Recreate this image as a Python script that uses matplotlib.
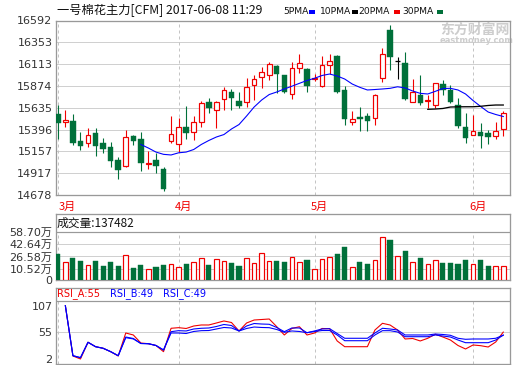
import numpy as np
import matplotlib
matplotlib.use("Agg")
import matplotlib.pyplot as plt
from matplotlib.patches import Rectangle
from matplotlib.transforms import blended_transform_factory

# ---------------- data ----------------
title = "一号棉花主力[CFM] 2017-06-08 11:29"

opens = [15566, 15475, 15493, 15270, 15245, 15358, 15248, 15204, 15062, 14999,
         15325, 15292, 15014, 15062, 14963, 15273, 15234, 15420, 15366, 15475,
         15698, 15610, 15728, 15804, 15709, 15695, 15881, 15976, 15997, 16093,
         15994, 15782, 16068, 16060, 15947, 15873, 16104, 16203, 15830, 15475,
         15530, 15544, 15519, 15965, 16488, 16148, 16129, 15701, 15775, 15709,
         15665, 15892, 15830, 15665, 15427, 15333, 15366, 15358, 15322, 15399]
closes = [15471, 15500, 15251, 15219, 15336, 15219, 15186, 15051, 14955, 15314,
          15273, 15025, 15032, 14999, 14744, 15347, 15420, 15361, 15475, 15684,
          15635, 15698, 15830, 15745, 15657, 15866, 15950, 16024, 16111, 16002,
          15811, 16068, 16122, 15877, 15961, 16107, 16144, 15811, 15508, 15511,
          15515, 15493, 15775, 16224, 16195, 16148, 15731, 15804, 15684, 15720,
          15903, 15830, 15701, 15435, 15300, 15380, 15328, 15311, 15380, 15574]
highs = [15665, 15610, 15566, 15372, 15409, 15409, 15300, 15262, 15098, 15391,
         15336, 15366, 15164, 15135, 14988, 15544, 15519, 15654, 15544, 15709,
         15739, 15709, 15859, 15841, 15808, 15958, 15994, 16085, 16140, 16104,
         15998, 16133, 16224, 16074, 16005, 16206, 16224, 16210, 15873, 15599,
         15643, 15574, 15782, 16287, 16543, 16195, 16250, 15950, 15994, 15775,
         15903, 15939, 15884, 15739, 15581, 15555, 15464, 15391, 15475, 15599]
lows = [15289, 15427, 15226, 15171, 15201, 15109, 15135, 14988, 14853, 14990,
        15226, 14944, 14960, 14922, 14725, 15251, 15153, 15292, 15281, 15427,
        15581, 15416, 15610, 15610, 15629, 15646, 15720, 15848, 15939, 15800,
        15793, 15731, 16019, 15811, 15928, 15859, 16005, 15800, 15446, 15446,
        15380, 15380, 15446, 15921, 16049, 15950, 15720, 15701, 15665, 15629,
        15632, 15775, 15684, 15409, 15251, 15333, 15197, 15234, 15289, 15328]

volumes = [302600, 189400, 246000, 206500, 149900, 206500, 140700, 189400, 140700, 281500,
           114400, 149900, 97300, 127600, 153900, 163100, 123600, 167000, 189400, 242000,
           153900, 228900, 202600, 180200, 140700, 242000, 176300, 307900, 202600, 202600,
           189400, 255200, 189400, 215700, 97300, 228900, 255200, 298700, 386800, 123600,
           189400, 167000, 215700, 518400, 482900, 268400, 338100, 189400, 242000, 163100,
           215700, 180200, 180200, 167000, 215700, 163100, 215700, 140700, 136800, 137482]

nan = np.nan
ma_blue = [nan] * 11 + [
    15232, 15193, 15149, 15124, 15117, 15141, 15149, 15177, 15232, 15276,
    15314, 15341, 15402, 15451, 15544, 15643, 15720, 15780, 15808, 15841,
    15871, 15903, 15934, 15958, 15989, 16005, 15983, 15950, 15895, 15859,
    15830, 15835, 15841, 15848, 15865, 15852, 15819, 15793, 15786, 15815,
    15846, 15848, 15830, 15786, 15714, 15649, 15588, 15561, 15539]
ma_black = [nan] * 49 + [15618, 15621, 15627, 15643, 15645, 15646, 15646,
                         15651, 15660, 15665, 15665]

rsi_a = [nan, 107, 7.9, 2.0, 34.9, 26.2, 23.1, 16.4, 7.9, 53.2, 49.3,
         33.5, 32.1, 28.6, 16.4, 62.5, 63.7, 62.1, 67.0, 69.0, 69.0,
         72.9, 76.9, 73.9, 57.2, 72.9, 78.8, 79.8, 80.8, 65.6, 49.3,
         62.1, 65.6, 49.3, 53.2, 62.1, 61.7, 37.5, 26.2, 26.2, 26.2,
         26.2, 59.1, 72.3, 69.0, 59.1, 41.4, 42.4, 37.5, 42.8, 50.7,
         45.3, 39.4, 28.6, 21.7, 29.6, 28.2, 25.6, 35.5, 55]
rsi_b = [nan, 107, 8.5, 4.6, 34.9, 26.2, 23.1, 16.4, 8.5, 45.3, 42.4,
         32.5, 32.1, 28.6, 19.7, 55.8, 57.8, 57.2, 61.1, 62.5, 63.1,
         66.0, 70.0, 68.0, 57.2, 67.0, 71.9, 70.9, 70.4, 64.1, 55.8,
         63.1, 63.1, 53.8, 57.2, 61.1, 61.7, 52.2, 42.8, 42.8, 42.8,
         42.8, 53.2, 62.5, 61.1, 59.1, 49.3, 49.3, 49.3, 49.3, 51.2,
         50.3, 48.7, 42.8, 40.8, 41.4, 41.4, 41.4, 42.8, 49]
rsi_c = [nan, 107, 8.5, 4.6, 34.9, 26.2, 23.1, 16.4, 8.5, 44.0, 41.5,
         32.5, 32.1, 28.6, 19.7, 53.2, 53.2, 52.2, 56.2, 57.8, 58.1,
         61.1, 64.1, 63.1, 57.2, 62.1, 65.0, 64.1, 63.7, 60.1, 54.6,
         57.2, 56.2, 53.8, 56.2, 58.1, 58.1, 49.3, 38.0, 38.0, 38.0,
         38.0, 49.3, 57.8, 57.8, 55.2, 45.9, 45.9, 45.9, 45.9, 49.3,
         47.3, 45.3, 39.4, 34.1, 34.1, 34.1, 34.1, 39.4, 49]

price_ticks = [16592, 16353, 16113, 15874, 15635, 15396, 15157, 14917, 14678]
vol_ticks = [105200, 265800, 426400, 587000]
vol_tick_labels = ["10.52万", "26.58万", "42.64万", "58.70万"]
rsi_ticks = [107, 55, 2]
month_labels = ["3月", "4月", "5月", "6月"]
month_index = [0, 16, 34, 55]
legend_labels = ["5PMA", "10PMA", "20PMA", "30PMA"]

# ---------------- style ----------------
RED = "#f00000"
GREEN = "#00703a"
BLUE = "#0000ff"
FRAME = "#999999"
GRID = "#d0d0d0"
DASH = "#c4c4c4"
TXT = "#333333"
CJK = ["Noto Sans CJK SC", "DejaVu Sans"]
NUMF = ["DejaVu Sans", "Noto Sans CJK SC"]
PX = 0.72  # one pixel in points

W, H = 520, 365
fig = plt.figure(figsize=(W / 100, H / 100), dpi=100)


def box(x0, y0, x1, y1):
    return [x0 / W, 1 - y1 / H, (x1 - x0) / W, (y1 - y0) / H]


ax = fig.add_axes(box(56, 20.5, 510, 195))
axv = fig.add_axes(box(56, 214, 510, 280))
axr = fig.add_axes(box(56, 288, 510, 364))

n = len(opens)
x = np.arange(n)
o = np.array(opens, float)
c = np.array(closes, float)
h = np.array(highs, float)
l = np.array(lows, float)
xlim = (-0.24, 59.89)

for a in (ax, axv, axr):
    a.set_xlim(*xlim)
    a.set_xticks([])
    for s in a.spines.values():
        s.set_color(FRAME)
        s.set_linewidth(PX * 1.3)
    a.tick_params(axis="y", length=0, pad=2.5, labelsize=8, labelcolor=TXT)

# ---------------- main candle chart ----------------
ax.set_ylim(14678, 16592)
ax.set_yticks(price_ticks)
ax.set_yticklabels([str(t) for t in price_ticks], family="DejaVu Sans")
for t in price_ticks[1:-1]:
    ax.axhline(t, color=GRID, lw=PX, zorder=0)
for mi in month_index:
    ax.axvline(mi, color=DASH, lw=PX, ls=(0, (3, 3)), zorder=0)

up = c > o
dn = c < o
fl = c == o
BW = 0.62
ax.vlines(x[dn], l[dn], h[dn], color=GREEN, lw=PX * 1.1, zorder=2)
ax.bar(x[dn], o[dn] - c[dn], bottom=c[dn], width=BW + 0.1, color=GREEN,
       edgecolor=GREEN, lw=0.3, zorder=3)
ax.vlines(x[up], c[up], h[up], color=RED, lw=PX * 1.1, zorder=2)
ax.vlines(x[up], l[up], o[up], color=RED, lw=PX * 1.1, zorder=2)
ax.bar(x[up], c[up] - o[up], bottom=o[up], width=BW, facecolor="white",
       edgecolor=RED, lw=PX * 1.2, zorder=3)
ax.vlines(x[fl], l[fl], h[fl], color="black", lw=PX * 1.1, zorder=2)
ax.hlines(o[fl], x[fl] - 0.36, x[fl] + 0.36, color="black", lw=PX * 1.3, zorder=3)

ax.plot(x, ma_blue, color=BLUE, lw=PX * 1.1, zorder=4)
ax.plot(x, ma_black, color="black", lw=PX * 1.3, zorder=4)

trans = blended_transform_factory(ax.transData, ax.transAxes)
for k, (lab, mi) in enumerate(zip(month_labels, month_index)):
    if k == 0:
        ax.text(mi + 0.16, -0.069, lab, transform=trans, ha="left", va="center",
                color=RED, fontsize=8, family=CJK)
    else:
        ax.text(mi + 0.6, -0.069, lab, transform=trans, ha="center", va="center",
                color=RED, fontsize=8, family=CJK)

# watermark
ax.text(475 / W, 1 - 30 / H, "东方财富网", transform=fig.transFigure, ha="center",
        va="center", color="#cdcdcd", fontsize=10, weight="bold", family=CJK, zorder=0)
ax.text(477 / W, 1 - 40.5 / H, "eastmoney.com", transform=fig.transFigure, ha="center",
        va="center", color="#cdcdcd", fontsize=6, weight="bold", family="DejaVu Sans", zorder=0)

# title + legend
fig.text(57 / W, 1 - 10 / H, title, ha="left", va="center", fontsize=8.8,
         family=CJK, color="#111111")
leg_x = [283, 320, 358, 402]
sq_x = [309, 352, 394, 437]
sq_col = [BLUE, "black", RED, GREEN]
for lab, lx, sx, sc in zip(legend_labels, leg_x, sq_x, sq_col):
    fig.text(lx / W, 1 - 11 / H, lab, ha="left", va="center", fontsize=6.6,
             family="DejaVu Sans", color="#111111")
    fig.add_artist(Rectangle((sx / W, 1 - 13.5 / H), 5.5 / W, 4 / H,
                             transform=fig.transFigure, color=sc, lw=0))

# ---------------- volume ----------------
vol = np.array(volumes, float)
vol_floor = -44700
vol_top = 823900
axv.set_ylim(vol_floor, vol_top)
axv.set_yticks([vol_floor] + vol_ticks)
axv.set_yticklabels(["0"] + vol_tick_labels, family=NUMF)
for t in vol_ticks[:-1]:
    axv.axhline(t, color=GRID, lw=PX, zorder=0)
axv.axhline(vol_ticks[-1], color=FRAME, lw=PX * 1.2, zorder=1)
frac = (vol_ticks[-1] - vol_floor) / (vol_top - vol_floor)
for mi in month_index:
    axv.axvline(mi, ymax=frac, color=DASH, lw=PX, ls=(0, (3, 3)), zorder=0)
vup = c >= o
vdn = ~vup
axv.bar(x[vdn], vol[vdn] - vol_floor, bottom=vol_floor, width=0.68, color=GREEN,
        edgecolor=GREEN, lw=0.3, zorder=3)
axv.bar(x[vup], vol[vup] - vol_floor, bottom=vol_floor, width=0.6, facecolor="white",
        edgecolor=RED, lw=PX * 1.2, zorder=3)
fig.text(57 / W, 1 - 223 / H, "成交量:%d" % volumes[-1], ha="left", va="center",
         fontsize=8.5, family=CJK, color="#111111")

# ---------------- RSI ----------------
rsi_lo, rsi_hi, rsi_head = -7.9, 141.9, 116.3
axr.set_ylim(rsi_lo, rsi_hi)
axr.set_yticks(rsi_ticks)
axr.set_yticklabels([str(t) for t in rsi_ticks], family="DejaVu Sans")
axr.axhline(55, color=GRID, lw=PX, zorder=0)
axr.axhline(rsi_head, color=FRAME, lw=PX * 1.2, zorder=1)
rfrac = (rsi_head - rsi_lo) / (rsi_hi - rsi_lo)
for mi in month_index:
    axr.axvline(mi, ymax=rfrac, color=DASH, lw=PX, ls=(0, (3, 3)), zorder=0)
axr.plot(x, rsi_a, color=RED, lw=PX * 1.1, zorder=3)
axr.plot(x, rsi_b, color=BLUE, lw=PX * 1.1, zorder=4)
axr.plot(x, rsi_c, color=BLUE, lw=PX * 1.1, zorder=4)

rsi_titles = [("RSI_A:%d" % round(rsi_a[-1]), RED, 57),
              ("RSI_B:%d" % round(rsi_b[-1]), BLUE, 110),
              ("RSI_C:%d" % round(rsi_c[-1]), BLUE, 163)]
for txt, col, tx in rsi_titles:
    fig.text(tx / W, 1 - 293.5 / H, txt, ha="left", va="center", fontsize=7,
             family="DejaVu Sans", color=col)

fig.savefig("out.png", dpi=100, facecolor="white")
